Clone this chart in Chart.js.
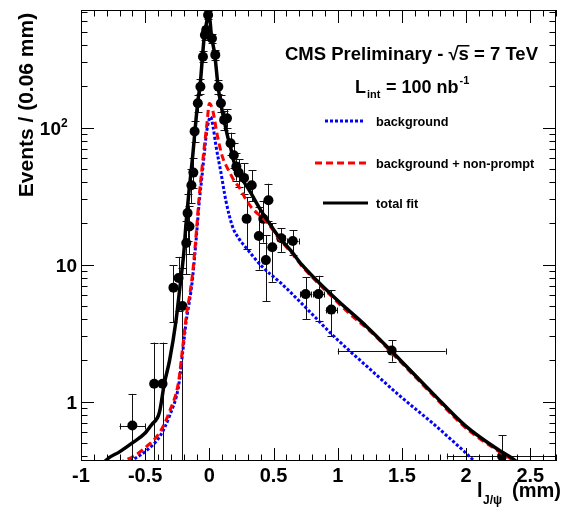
<!DOCTYPE html>
<html><head><meta charset="utf-8">
<script src="https://cdn.jsdelivr.net/npm/chart.js@4"></script>
<style>html,body{margin:0;padding:0;background:#fff}canvas{display:block}</style>
</head><body>
<canvas id="c" width="561" height="514"></canvas>
<script>
// ---- data points (l_J/psi in mm, events per 0.06 mm) ----
const ptX   = [-0.60,-0.43,-0.365,-0.28,-0.24,-0.21,-0.18,-0.17,-0.155,-0.14,-0.125,-0.115,-0.09,-0.07,-0.05,-0.035,-0.025,-0.01,0.02,0.046,0.07,0.09,0.115,0.137,0.165,0.19,0.21,0.228,0.27,0.33,0.29,0.385,0.42,0.46,0.44,0.49,0.56,0.65,0.75,0.85,0.95,1.42,2.28];
const ptY   = [0.67,1.35,1.35,6.8,8.0,5.0,14.4,23.8,19,38,47,94,151,199,330,475,516,665,448,340,199,151,114,117,77,63,52,47,43,38,21.6,16.2,21.6,29.5,10.8,13.4,15.6,14.9,6.1,6.1,4.7,2.36,0.40];
const ptYLo = [0.30,0.30,0.30,3.8,4.6,0.30,8.5,15,12,28,36,78,130,175,300,440,480,625,415,312,176,131,96,100,63,51,41,37,33,29,13,9.2,14.5,21,5.4,7.5,12.4,11.7,4.0,3.9,3.0,1.96,0.30];
const ptYHi = [1.14,2.7,2.7,9.9,11.4,9.5,21,33,27,50,60,112,172,225,362,512,555,706,482,370,224,173,133,136,92,77,65,59,55,49,31,26.5,29,39,16.4,20,18.5,17.9,8.1,8.3,6.5,2.8,0.57];
const ptXErr= [0.10,0.015,0.015,0.015,0.015,0.015,0.015,0.015,0.015,0.015,0.015,0.015,0.015,0.015,0.015,0.015,0.015,0.015,0.015,0.015,0.015,0.015,0.015,0.015,0.015,0.015,0.015,0.015,0.015,0.015,0.015,0.015,0.015,0.015,0.015,0.015,0.03,0.045,0.045,0.045,0.045,0.42,0.43];

// ---- total fit (black solid) ----
const fitX = [-0.85,-0.81,-0.7,-0.6,-0.5,-0.45,-0.39,-0.35,-0.31,-0.26,-0.23,-0.2,-0.18,-0.158,-0.13,-0.11,-0.09,-0.07,-0.055,-0.04,-0.02,-0.008,0.005,0.015,0.042,0.068,0.086,0.111,0.14,0.165,0.19,0.228,0.27,0.31,0.4,0.46,0.54,0.64,0.72,0.97,1.23,1.49,1.74,2.0,2.26,2.36,2.45];
const fitY = [0.32,0.37,0.43,0.50,0.59,0.68,0.83,1.37,2.0,3.9,6.8,12,21,35,62,100,155,215,320,460,600,660,600,480,340,200,155,118,88,72,57,47,40,35,25,20.5,16,12.5,10,5.8,3.5,2.0,1.15,0.66,0.44,0.386,0.33];

// ---- background + non-prompt (red dashed) ----
const npX = [-0.75,-0.72,-0.59,-0.49,-0.385,-0.31,-0.24,-0.21,-0.18,-0.15,-0.13,-0.1,-0.08,-0.06,-0.04,-0.02,0.0,0.025,0.064,0.1,0.154,0.2,0.23,0.28,0.33,0.4,0.46,0.54,0.64,0.72,0.97,1.14,1.23,1.49,1.74,2.0,2.26,2.36,2.45];
const npY = [0.33,0.35,0.40,0.47,0.60,0.85,1.4,2.4,4.2,6.3,8.8,18,31,48,72,105,150,135,86,62,48,40,37,30.5,26,22.5,19.8,15.6,12.2,9.8,5.65,4.0,3.42,1.95,1.12,0.64,0.43,0.376,0.33];

// ---- background (blue dotted) ----
const bkgX = [-0.75,-0.72,-0.59,-0.49,-0.385,-0.31,-0.24,-0.21,-0.18,-0.15,-0.13,-0.1,-0.08,-0.06,-0.04,-0.02,0.01,0.03,0.05,0.09,0.128,0.18,0.23,0.28,0.41,0.56,0.72,0.97,1.23,1.49,1.74,2.0,2.1];
const bkgY = [0.31,0.33,0.38,0.44,0.56,0.79,1.3,2.2,3.9,5.8,8.1,16.5,28,42,64,95,120,100,75,47,29.5,19,15.5,13.5,9.7,7.3,5.2,3.0,1.8,1.09,0.695,0.42,0.34];

// ---- axis tick labels ----
const xTickValues = [-1,-0.5,0,0.5,1,1.5,2,2.5];
const xTickLabels = ['-1','-0.5','0','0.5','1','1.5','2','2.5'];
const yTickValues = [1,10,100];
const yTickBase   = ['1','10','10'];
const yTickExp    = ['','','2'];

const FAM = '"Liberation Sans", Arial, Helvetica, sans-serif';
const F = (s, b) => (b === false ? '' : 'bold ') + s + 'px ' + FAM;

const overlay = {
  id: 'overlay',
  beforeDatasetsDraw(chart) {
    const {ctx, chartArea: a, scales: {x, y}} = chart;
    ctx.save();
    ctx.beginPath(); ctx.rect(a.left, a.top, a.right - a.left, a.bottom - a.top); ctx.clip();
    ctx.strokeStyle = '#111'; ctx.lineWidth = 1;
    for (let i = 0; i < ptX.length; i++) {
      const px = Math.round(x.getPixelForValue(ptX[i])) + 0.5;
      const py = y.getPixelForValue(ptY[i]);
      const yl = y.getPixelForValue(ptYLo[i]);
      const yh = y.getPixelForValue(ptYHi[i]);
      const xl = x.getPixelForValue(ptX[i] - ptXErr[i]);
      const xh = x.getPixelForValue(ptX[i] + ptXErr[i]);
      ctx.beginPath();
      ctx.moveTo(px, yl); ctx.lineTo(px, yh);
      ctx.moveTo(px - 4, Math.round(yh) + 0.5); ctx.lineTo(px + 4, Math.round(yh) + 0.5);
      ctx.moveTo(px - 4, Math.round(yl) + 0.5); ctx.lineTo(px + 4, Math.round(yl) + 0.5);
      const pyr = Math.round(py) + 0.5;
      ctx.moveTo(xl, pyr); ctx.lineTo(xh, pyr);
      ctx.moveTo(Math.round(xl) + 0.5, pyr - 3); ctx.lineTo(Math.round(xl) + 0.5, pyr + 3);
      ctx.moveTo(Math.round(xh) + 0.5, pyr - 3); ctx.lineTo(Math.round(xh) + 0.5, pyr + 3);
      ctx.stroke();
    }
    ctx.restore();
  },
  afterDraw(chart) {
    const {ctx, chartArea: a, scales: {x, y}} = chart;
    ctx.save();
    // frame
    ctx.strokeStyle = '#000'; ctx.lineWidth = 1;
    ctx.strokeRect(a.left + 0.5, a.top + 0.5, a.right - a.left - 1, a.bottom - a.top - 1);
    // x ticks (inside, top and bottom)
    ctx.beginPath();
    for (let k = -10; k <= 27; k++) {
      const v = k / 10;
      const px = Math.round(x.getPixelForValue(v)) + 0.5;
      const L = (k % 5 === 0) ? 13 : 6.5;
      ctx.moveTo(px, a.bottom); ctx.lineTo(px, a.bottom - L);
      ctx.moveTo(px, a.top); ctx.lineTo(px, a.top + L);
    }
    // y ticks (inside, left and right)
    for (let d = -1; d <= 2; d++) {
      for (let m = 1; m <= 9; m++) {
        const v = m * Math.pow(10, d);
        if (v < y.min || v > y.max) continue;
        const py = Math.round(y.getPixelForValue(v)) + 0.5;
        const L = (m === 1) ? 13 : 6.5;
        ctx.moveTo(a.left, py); ctx.lineTo(a.left + L, py);
        ctx.moveTo(a.right, py); ctx.lineTo(a.right - L, py);
      }
    }
    ctx.stroke();

    ctx.fillStyle = '#000';
    // x tick labels
    ctx.font = F(20); ctx.textAlign = 'center'; ctx.textBaseline = 'alphabetic';
    xTickValues.forEach((v, i) => ctx.fillText(xTickLabels[i], x.getPixelForValue(v), 482));
    // y tick labels
    yTickValues.forEach((v, i) => {
      const py = y.getPixelForValue(v);
      ctx.font = F(19);
      if (yTickExp[i]) {
        ctx.textAlign = 'right';
        ctx.fillText(yTickBase[i], 61, py + 7);
        ctx.font = F(12); ctx.textAlign = 'left';
        ctx.fillText(yTickExp[i], 61, py - 1);
      } else {
        ctx.textAlign = 'right';
        ctx.fillText(yTickBase[i], 77, py + 7);
      }
    });

    // y title
    ctx.save();
    ctx.translate(33, 105); ctx.rotate(-Math.PI / 2);
    ctx.font = F(21); ctx.textAlign = 'center'; ctx.textBaseline = 'alphabetic';
    ctx.fillText('Events / (0.06 mm)', 0, 0);
    ctx.restore();

    // x title
    ctx.textAlign = 'left';
    ctx.font = F(20); ctx.fillText('l', 477, 497);
    ctx.font = F(12); ctx.fillText('J/\u03c8', 483, 504);
    ctx.font = F(20); ctx.fillText('(mm)', 512, 497);

    // CMS header
    ctx.font = F(18.5);
    const pre = 'CMS Preliminary - \u221a';
    ctx.fillText(pre, 285, 60);
    const wPre = ctx.measureText(pre).width;
    ctx.fillText('s = 7 TeV', 285 + wPre, 60);
    const wS = ctx.measureText('s').width;
    ctx.fillRect(285 + wPre - 1, 45, wS + 1.5, 1.5);

    // luminosity
    ctx.font = F(18); ctx.fillText('L', 355, 93);
    ctx.font = F(11); ctx.fillText('int', 367, 98);
    ctx.font = F(18); ctx.fillText('= 100 nb', 386, 93);
    const wNb = ctx.measureText('= 100 nb').width;
    ctx.font = F(11); ctx.fillText('-1', 386 + wNb + 1, 84);

    // legend
    const leg = [
      {c: '#0000ff', d: [3, 2], x0: 325, x1: 365, yy: 121, t: 'background'},
      {c: '#ff0000', d: [7, 4], x0: 315, x1: 368, yy: 163, t: 'background + non-prompt'},
      {c: '#000000', d: [], x0: 323, x1: 368, yy: 203, t: 'total fit'}
    ];
    leg.forEach(e => {
      ctx.strokeStyle = e.c; ctx.lineWidth = 3; ctx.setLineDash(e.d);
      ctx.beginPath(); ctx.moveTo(e.x0, e.yy); ctx.lineTo(e.x1, e.yy); ctx.stroke();
      ctx.setLineDash([]);
      ctx.font = F(12.7); ctx.textBaseline = 'middle';
      ctx.fillText(e.t, 376, e.yy + 1);
      ctx.textBaseline = 'alphabetic';
    });
    ctx.restore();
  }
};

const toXY = (xs, ys) => xs.map((v, i) => ({x: v, y: ys[i]}));

new Chart(document.getElementById('c'), {
  type: 'scatter',
  data: {
    datasets: [
      {label: 'data', data: toXY(ptX, ptY), pointRadius: 5, pointHoverRadius: 5,
       backgroundColor: '#000', borderWidth: 0, showLine: false, order: 4},
      {label: 'background', type: 'line', data: toXY(bkgX, bkgY), borderColor: '#0000ff',
       borderWidth: 3, borderDash: [3, 2], pointRadius: 0, fill: false,
       cubicInterpolationMode: 'monotone', order: 3},
      {label: 'background + non-prompt', type: 'line', data: toXY(npX, npY), borderColor: '#ff0000',
       borderWidth: 3, borderDash: [7, 4], borderDashOffset: 5, pointRadius: 0, fill: false,
       cubicInterpolationMode: 'monotone', order: 2},
      {label: 'total fit', type: 'line', data: toXY(fitX, fitY), borderColor: '#000000',
       borderWidth: 3.5, pointRadius: 0, fill: false,
       cubicInterpolationMode: 'monotone', order: 1}
    ]
  },
  options: {
    responsive: false, animation: false, devicePixelRatio: 1,
    layout: {padding: {left: 81, top: 10, right: 1, bottom: 53}},
    plugins: {legend: {display: false}, tooltip: {enabled: false}},
    scales: {
      x: {type: 'linear', min: -1, max: 2.7, display: false},
      y: {type: 'logarithmic', min: 0.369, max: 723, display: false}
    }
  },
  plugins: [overlay]
});
</script>
</body></html>
